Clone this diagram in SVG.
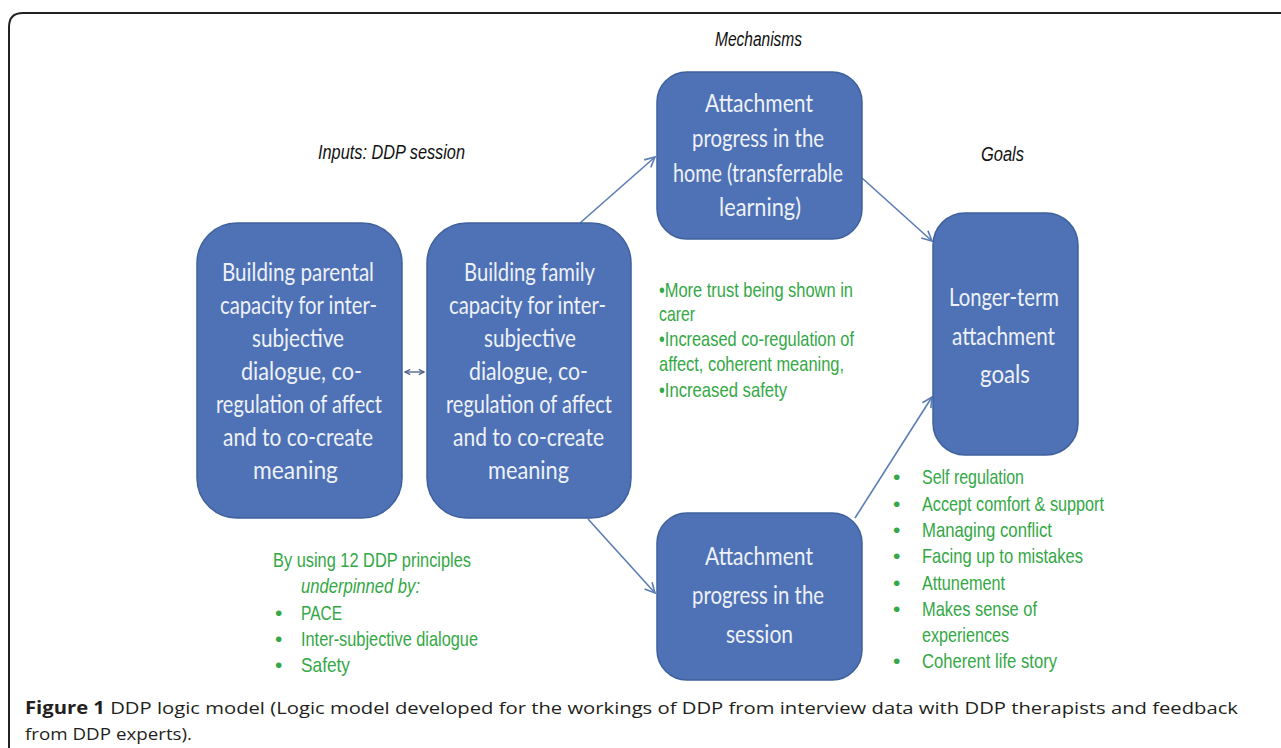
<svg xmlns="http://www.w3.org/2000/svg" width="1281" height="748" viewBox="0 0 1281 748">
<style>
.box{fill:#4e72b5;stroke:#3f609c;stroke-width:1.5}
.bt{font-family:Lato,"Noto Sans",sans-serif;font-size:25px;fill:#eef1f8}
.gt{font-family:"Liberation Sans",Arial,sans-serif;font-size:21px;fill:#33a845}
.lbl{font-family:"Liberation Sans",Arial,sans-serif;font-size:20px;font-style:italic;fill:#111}
.cap{font-family:"Open Sans","Noto Sans",sans-serif;font-size:17px;fill:#231f20}
.conn{stroke:#5a7db5;stroke-width:1.6;fill:none}
</style>
<defs>
<marker id="ah" viewBox="0 0 12 12" refX="11" refY="6" markerWidth="12" markerHeight="12" markerUnits="userSpaceOnUse" orient="auto">
<path d="M1,1 L11,6 L1,11" fill="none" stroke="#5a7db5" stroke-width="1.6"/>
</marker>
<marker id="ahs" viewBox="0 0 8 8" refX="7" refY="4" markerWidth="7" markerHeight="7" markerUnits="userSpaceOnUse" orient="auto-start-reverse">
<path d="M1,1 L7,4 L1,7" fill="none" stroke="#4a5a80" stroke-width="1.3"/>
</marker>
</defs>
<rect width="1281" height="748" fill="#fff"/>
<path d="M9,748 V27 Q9,13 23,13 H1281" fill="none" stroke="#222" stroke-width="2"/>

<g id="labels">
<text class="lbl" x="318" y="159" textLength="147" lengthAdjust="spacingAndGlyphs">Inputs: DDP session</text>
<text class="lbl" x="715" y="46" textLength="87" lengthAdjust="spacingAndGlyphs">Mechanisms</text>
<text class="lbl" x="981" y="161" textLength="43" lengthAdjust="spacingAndGlyphs">Goals</text>
</g>

<g id="connectors">
<line class="conn" x1="580" y1="223" x2="655" y2="157" marker-end="url(#ah)"/>
<line class="conn" x1="862" y1="178" x2="932" y2="241" marker-end="url(#ah)"/>
<line class="conn" x1="588" y1="519" x2="655" y2="593" marker-end="url(#ah)"/>
<line class="conn" x1="855" y1="518" x2="932" y2="397" marker-end="url(#ah)"/>
<line x1="405" y1="372" x2="424" y2="372" stroke="#4a5a80" stroke-width="1.3" marker-start="url(#ahs)" marker-end="url(#ahs)"/>
</g>

<g id="node-parental">
<rect class="box" x="197" y="223" width="205" height="295" rx="40"/>
<text class="bt" x="222" y="281" textLength="152" lengthAdjust="spacingAndGlyphs">Building parental</text>
<text class="bt" x="220" y="314" textLength="157" lengthAdjust="spacingAndGlyphs">capacity for inter-</text>
<text class="bt" x="252" y="347" textLength="92" lengthAdjust="spacingAndGlyphs">subjective</text>
<text class="bt" x="241" y="380" textLength="121" lengthAdjust="spacingAndGlyphs">dialogue, co-</text>
<text class="bt" x="216" y="413" textLength="166" lengthAdjust="spacingAndGlyphs">regulation of affect</text>
<text class="bt" x="223" y="446" textLength="150" lengthAdjust="spacingAndGlyphs">and to co-create</text>
<text class="bt" x="253" y="479" textLength="85" lengthAdjust="spacingAndGlyphs">meaning</text>
</g>

<g id="node-family">
<rect class="box" x="427" y="223" width="204" height="295" rx="40"/>
<text class="bt" x="464" y="281" textLength="131" lengthAdjust="spacingAndGlyphs">Building family</text>
<text class="bt" x="449" y="314" textLength="157" lengthAdjust="spacingAndGlyphs">capacity for inter-</text>
<text class="bt" x="484" y="347" textLength="92" lengthAdjust="spacingAndGlyphs">subjective</text>
<text class="bt" x="469" y="380" textLength="119" lengthAdjust="spacingAndGlyphs">dialogue, co-</text>
<text class="bt" x="446" y="413" textLength="166" lengthAdjust="spacingAndGlyphs">regulation of affect</text>
<text class="bt" x="453" y="446" textLength="151" lengthAdjust="spacingAndGlyphs">and to co-create</text>
<text class="bt" x="488" y="479" textLength="81" lengthAdjust="spacingAndGlyphs">meaning</text>
</g>

<g id="node-home">
<rect class="box" x="657" y="72" width="205" height="167" rx="30"/>
<text class="bt" x="705" y="112" textLength="108" lengthAdjust="spacingAndGlyphs">Attachment</text>
<text class="bt" x="692" y="147" textLength="132" lengthAdjust="spacingAndGlyphs">progress in the</text>
<text class="bt" x="673" y="182" textLength="170" lengthAdjust="spacingAndGlyphs">home (transferrable</text>
<text class="bt" x="719" y="216" textLength="82" lengthAdjust="spacingAndGlyphs">learning)</text>
</g>

<g id="node-session">
<rect class="box" x="657" y="513" width="205" height="167" rx="30"/>
<text class="bt" x="705" y="565" textLength="108" lengthAdjust="spacingAndGlyphs">Attachment</text>
<text class="bt" x="692" y="604" textLength="132" lengthAdjust="spacingAndGlyphs">progress in the</text>
<text class="bt" x="726" y="643" textLength="67" lengthAdjust="spacingAndGlyphs">session</text>
</g>

<g id="node-goals">
<rect class="box" x="933" y="213" width="145" height="242" rx="32"/>
<text class="bt" x="949" y="306" textLength="110" lengthAdjust="spacingAndGlyphs">Longer-term</text>
<text class="bt" x="952" y="345" textLength="103" lengthAdjust="spacingAndGlyphs">attachment</text>
<text class="bt" x="980" y="383" textLength="50" lengthAdjust="spacingAndGlyphs">goals</text>
</g>

<g id="mechanisms-notes">
<text class="gt" x="659" y="297" textLength="194" lengthAdjust="spacingAndGlyphs">•More trust being shown in</text>
<text class="gt" x="659" y="321" textLength="36" lengthAdjust="spacingAndGlyphs">carer</text>
<text class="gt" x="659" y="346" textLength="195" lengthAdjust="spacingAndGlyphs">•Increased co-regulation of</text>
<text class="gt" x="659" y="371" textLength="185" lengthAdjust="spacingAndGlyphs">affect, coherent meaning,</text>
<text class="gt" x="659" y="397" textLength="128" lengthAdjust="spacingAndGlyphs">•Increased safety</text>
</g>

<g id="inputs-notes">
<text class="gt" x="273" y="567" textLength="198" lengthAdjust="spacingAndGlyphs">By using 12 DDP principles</text>
<text class="gt" x="301" y="593" textLength="119" lengthAdjust="spacingAndGlyphs" font-style="italic">underpinned by:</text>
<text class="gt" x="275" y="620">•</text>
<text class="gt" x="301" y="620" textLength="41" lengthAdjust="spacingAndGlyphs">PACE</text>
<text class="gt" x="275" y="646">•</text>
<text class="gt" x="301" y="646" textLength="177" lengthAdjust="spacingAndGlyphs">Inter-subjective dialogue</text>
<text class="gt" x="275" y="672">•</text>
<text class="gt" x="301" y="672" textLength="49" lengthAdjust="spacingAndGlyphs">Safety</text>
</g>

<g id="goals-notes">
<text class="gt" x="893" y="484">•</text>
<text class="gt" x="922" y="484" textLength="102" lengthAdjust="spacingAndGlyphs">Self regulation</text>
<text class="gt" x="893" y="511">•</text>
<text class="gt" x="922" y="511" textLength="182" lengthAdjust="spacingAndGlyphs">Accept comfort &amp; support</text>
<text class="gt" x="893" y="537">•</text>
<text class="gt" x="922" y="537" textLength="130" lengthAdjust="spacingAndGlyphs">Managing conflict</text>
<text class="gt" x="893" y="563">•</text>
<text class="gt" x="922" y="563" textLength="161" lengthAdjust="spacingAndGlyphs">Facing up to mistakes</text>
<text class="gt" x="893" y="590">•</text>
<text class="gt" x="922" y="590" textLength="83" lengthAdjust="spacingAndGlyphs">Attunement</text>
<text class="gt" x="893" y="616">•</text>
<text class="gt" x="922" y="616" textLength="115" lengthAdjust="spacingAndGlyphs">Makes sense of</text>
<text class="gt" x="922" y="642" textLength="87" lengthAdjust="spacingAndGlyphs">experiences</text>
<text class="gt" x="893" y="668">•</text>
<text class="gt" x="922" y="668" textLength="135" lengthAdjust="spacingAndGlyphs">Coherent life story</text>
</g>

<g id="caption">
<text class="cap" x="25" y="714" textLength="1213" lengthAdjust="spacingAndGlyphs"><tspan font-weight="bold">Figure 1</tspan> DDP logic model (Logic model developed for the workings of DDP from interview data with DDP therapists and feedback</text>
<text class="cap" x="25" y="740" textLength="167" lengthAdjust="spacingAndGlyphs">from DDP experts).</text>
</g>
</svg>
